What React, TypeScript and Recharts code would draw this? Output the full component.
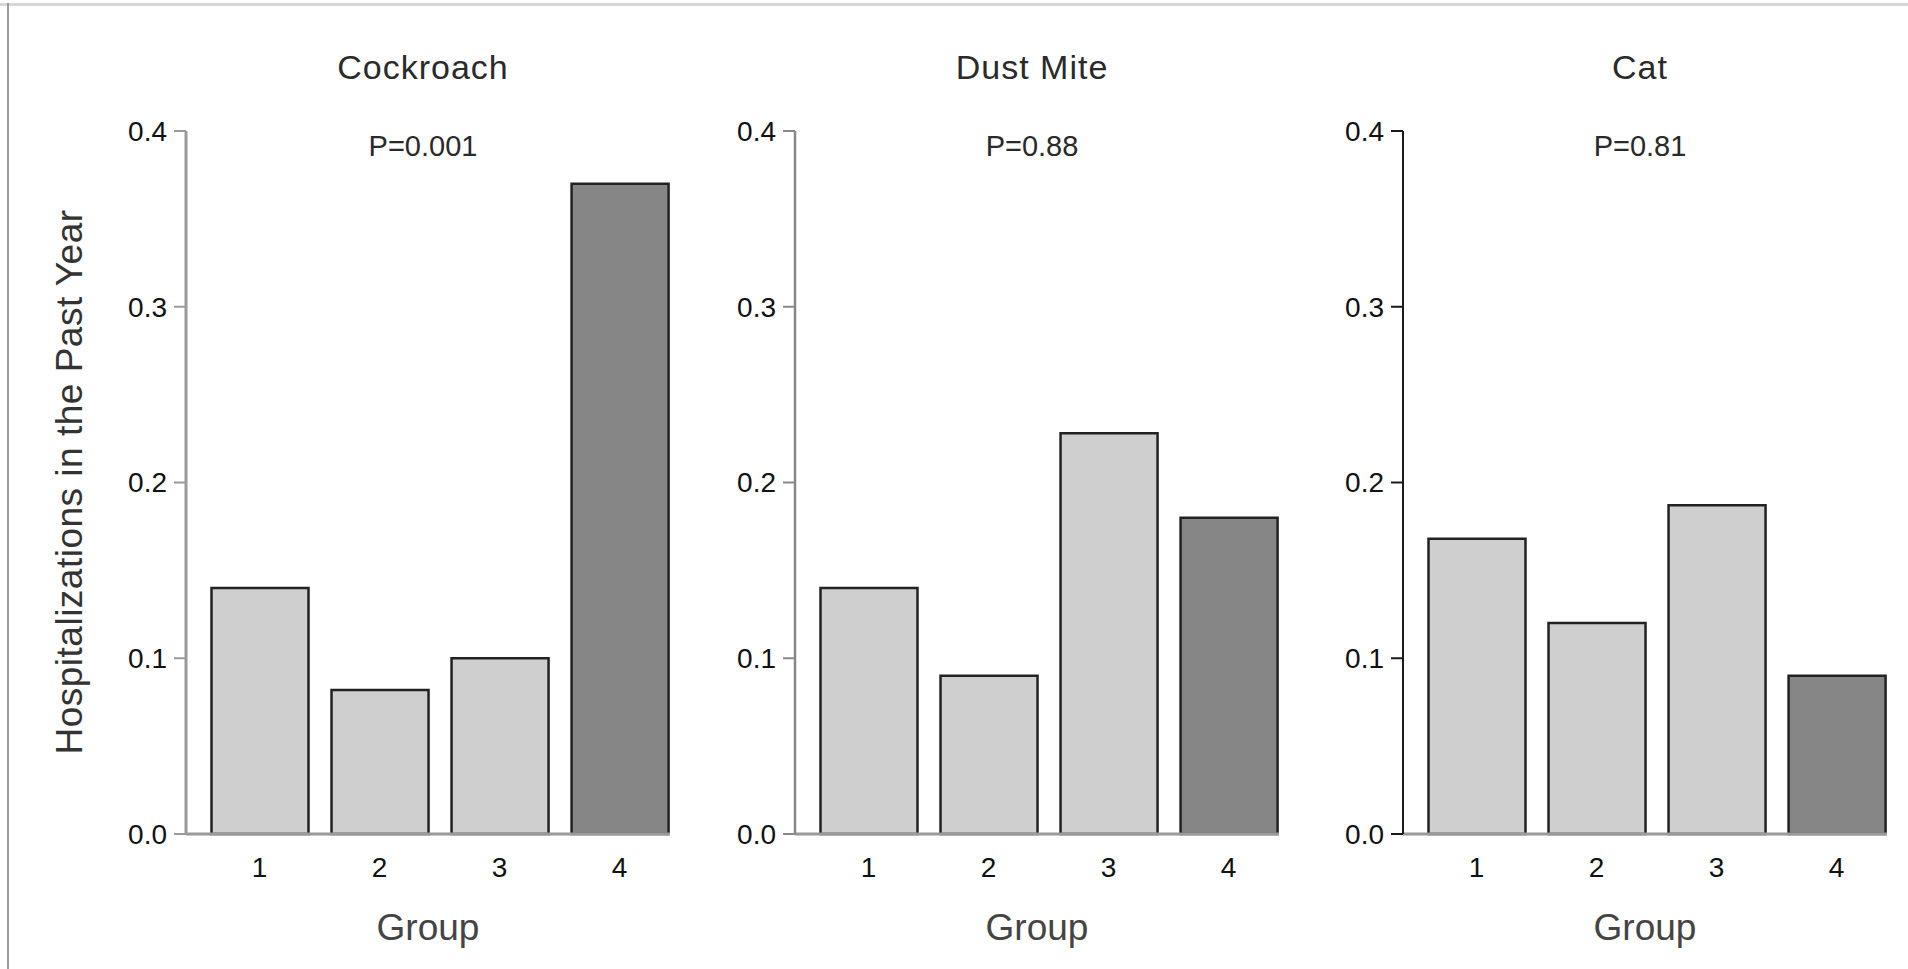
import { BarChart, Bar, XAxis, YAxis, Cell, Label } from "recharts"

const groups = [1, 2, 3, 4]
const allergenTitles = ["Cockroach", "Dust Mite", "Cat"]
const pLabels = ["P=0.001", "P=0.88", "P=0.81"]
const yTicks = [0, 0.1, 0.2, 0.3, 0.4]

const cockroach = [0.14, 0.082, 0.1, 0.37]
const dustMite = [0.14, 0.09, 0.228, 0.18]
const cat = [0.168, 0.12, 0.187, 0.09]

const seriesList = [cockroach, dustMite, cat]

const FILLS = ["#cfcfcf", "#cfcfcf", "#cfcfcf", "#868686"]
const AXIS_X = [186, 795, 1403]
const Y_WIDTH = [186, 120, 120]
const AXIS_COLORS = ["#9a9a9a", "#888888", "#1a1a1a"]
const AXIS_WIDTHS = [3, 2.5, 2]
const PLOT_W = 484
const FONT = "'Liberation Sans', Arial, Helvetica, sans-serif"

function Panel({ index }: { index: number }) {
    const data = groups.map((g, i) => ({ group: g, value: seriesList[index][i] }))
    const yw = Y_WIDTH[index]
    const axisColor = AXIS_COLORS[index]
    const cx = yw + PLOT_W / 2 - 5

    return (
        <div style={{ position: "absolute", left: AXIS_X[index] - yw, top: 0 }}>
            <BarChart
                width={yw + PLOT_W + 20}
                height={969}
                data={data}
                margin={{ top: 131, right: 20, bottom: 0, left: 0 }}
                style={{ fontFamily: FONT }}
            >
                <XAxis
                    type="number"
                    dataKey="group"
                    domain={[0.3875, 4.42]}
                    ticks={groups}
                    allowDataOverflow
                    tickLine={false}
                    axisLine={{ stroke: "#9a9a9a", strokeWidth: 3 }}
                    height={135}
                    tickMargin={17}
                    tick={{ fontSize: 28, fill: "#111" }}
                >
                    <Label value="Group" position="insideBottom" offset={29} fontSize={37} fill="#444" />
                </XAxis>
                <YAxis
                    type="number"
                    domain={[0, 0.4]}
                    ticks={yTicks}
                    width={yw}
                    tickSize={12}
                    tickMargin={7}
                    tickFormatter={(v: number) => v.toFixed(1)}
                    tick={{ fontSize: 28, fill: "#111" }}
                    axisLine={{ stroke: axisColor, strokeWidth: AXIS_WIDTHS[index] }}
                    tickLine={{ stroke: axisColor, strokeWidth: 2 }}
                />
                <Bar
                    dataKey="value"
                    barSize={97}
                    stroke="#222"
                    strokeWidth={2.5}
                    isAnimationActive={false}
                >
                    {data.map((entry, i) => (
                        <Cell key={entry.group} fill={FILLS[i]} />
                    ))}
                </Bar>

                <text x={cx} y={67} textAnchor="middle" dominantBaseline="central" fontSize={34} letterSpacing={1} fill="#2a2a2a">
                    {allergenTitles[index]}
                </text>
                <text x={cx} y={146} textAnchor="middle" dominantBaseline="central" fontSize={29} fill="#2a2a2a">
                    {pLabels[index]}
                </text>

                {index === 0 && (
                    <text
                        x={69}
                        y={482}
                        transform="rotate(-90 69 482)"
                        textAnchor="middle"
                        dominantBaseline="central"
                        fontSize={37}
                        letterSpacing={0.5}
                        fill="#333"
                    >
                        Hospitalizations in the Past Year
                    </text>
                )}
            </BarChart>
        </div>
    )
}

export default function App() {
    return (
        <div style={{ position: "absolute", left: 0, top: 0, width: 1908, height: 969, background: "#fff", fontFamily: FONT }}>
            <div style={{ position: "absolute", left: 0, top: 3, width: 1908, height: 3, background: "#d6d6d6" }} />
            <div style={{ position: "absolute", left: 7, top: 3, width: 2, height: 966, background: "#9a9a9a" }} />
            {allergenTitles.map((t, i) => (
                <Panel key={t} index={i} />
            ))}
        </div>
    )
}
